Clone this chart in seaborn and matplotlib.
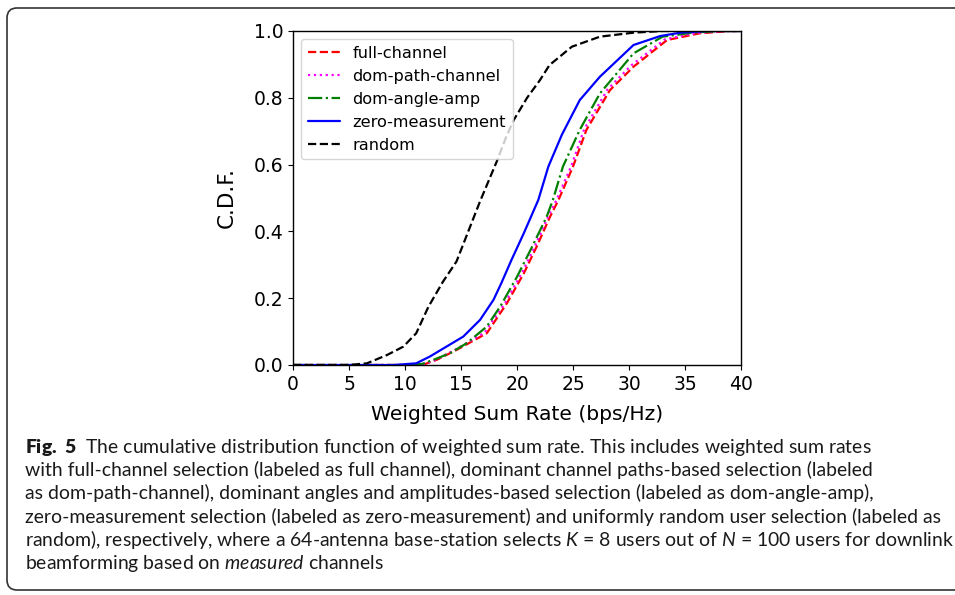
import numpy as np
import pandas as pd
import matplotlib
matplotlib.use("Agg")
import matplotlib.pyplot as plt
from matplotlib.path import Path
from matplotlib.patches import PathPatch
import seaborn as sns

# CDF curves (weighted sum rate in bps/Hz, C.D.F.)
full_x = [0, 10, 11.8, 12.8, 14.6, 17.3, 19.1, 20.6, 21.75, 22.95, 23.7, 25.0, 26.2, 28.3, 30.4, 33.4, 36.3, 39, 40]
full_y = [0, 0, 0.003, 0.015, 0.045, 0.095, 0.185, 0.274, 0.354, 0.444, 0.494, 0.594, 0.704, 0.823, 0.893, 0.973, 0.993, 1.0, 1.0]

path_x = [0, 10, 11.7, 12.7, 14.5, 17.1, 18.95, 20.45, 21.6, 22.8, 23.55, 24.85, 26.0, 28.1, 30.2, 33.2, 36.0, 38.5, 40]
path_y = [0, 0, 0.003, 0.015, 0.046, 0.097, 0.187, 0.276, 0.356, 0.446, 0.496, 0.596, 0.706, 0.826, 0.897, 0.975, 0.994, 1.0, 1.0]

angle_x = [0, 10, 11.5, 12.5, 14.0, 15.5, 17.3, 18.5, 20.0, 21.2, 22.65, 23.2, 24.1, 25.6, 27.4, 30.4, 33.0, 35.7, 38, 40]
angle_y = [0, 0, 0.003, 0.015, 0.035, 0.065, 0.115, 0.175, 0.264, 0.344, 0.444, 0.494, 0.594, 0.704, 0.813, 0.933, 0.983, 0.995, 1.0, 1.0]

zero_x = [0, 9, 11, 12.2, 13.7, 15.2, 16.7, 17.9, 18.6, 19.5, 20.6, 21.9, 22.8, 24.0, 25.6, 27.4, 30.4, 32.8, 34.6, 37, 40]
zero_y = [0, 0, 0.005, 0.025, 0.055, 0.085, 0.135, 0.195, 0.245, 0.314, 0.394, 0.494, 0.594, 0.689, 0.793, 0.863, 0.958, 0.985, 0.995, 1.0, 1.0]

rand_x = [0, 5, 6.6, 8.4, 9.85, 11.0, 12.1, 13.4, 14.6, 15.65, 16.7, 18.2, 19.0, 19.7, 20.9, 22.05, 22.9, 24.9, 27.4, 30.4, 33, 40]
rand_y = [0, 0, 0.005, 0.03, 0.055, 0.095, 0.175, 0.25, 0.31, 0.40, 0.49, 0.61, 0.68, 0.733, 0.80, 0.853, 0.898, 0.953, 0.983, 0.995, 1.0, 1.0]

labels = ["full-channel", "dom-path-channel", "dom-angle-amp", "zero-measurement", "random"]
colors = ["red", "magenta", "green", "blue", "black"]
styles = ["--", ":", "-.", "-", "--"]

x_ticks = [0, 5, 10, 15, 20, 25, 30, 35, 40]
y_ticks = [0.0, 0.2, 0.4, 0.6, 0.8, 1.0]

caption = [
    r"$\mathbf{Fig.\ 5}$  The cumulative distribution function of weighted sum rate. This includes weighted sum rates",
    "with full-channel selection (labeled as full channel), dominant channel paths-based selection (labeled",
    "as dom-path-channel), dominant angles and amplitudes-based selection (labeled as dom-angle-amp),",
    "zero-measurement selection (labeled as zero-measurement) and uniformly random user selection (labeled as",
    r"random), respectively, where a 64-antenna base-station selects $K$ = 8 users out of $N$ = 100 users for downlink",
    r"beamforming based on $\mathit{measured}$ channels",
]

sns.set_theme(style="ticks", rc={
    "axes.edgecolor": "black",
    "axes.linewidth": 1.0,
    "xtick.color": "black",
    "ytick.color": "black",
    "text.color": "black",
    "axes.labelcolor": "black",
    "xtick.major.size": 3.5,
    "ytick.major.size": 3.5,
    "xtick.major.width": 0.8,
    "ytick.major.width": 0.8,
})
plt.rcParams["font.family"] = ["DejaVu Sans"]
plt.rcParams["mathtext.fontset"] = "custom"
plt.rcParams["mathtext.rm"] = "Lato"
plt.rcParams["mathtext.it"] = "Lato:italic"
plt.rcParams["mathtext.bf"] = "Lato:heavy"

fig = plt.figure(figsize=(9.55, 5.95), dpi=100)
ax = fig.add_axes([293 / 955, 1 - 365 / 595, (741 - 293) / 955, (365 - 31) / 595])

series = [(full_x, full_y), (path_x, path_y), (angle_x, angle_y), (zero_x, zero_y), (rand_x, rand_y)]
for (xs, ys), lab, col, ls in zip(series, labels, colors, styles):
    df = pd.DataFrame({"rate": xs, "cdf": ys})
    sns.lineplot(data=df, x="rate", y="cdf", ax=ax, color=col, linestyle=ls,
                 linewidth=1.6, label=lab, sort=True, estimator=None)

ax.set_xlim(0, 40)
ax.set_ylim(0, 1)
ax.set_xticks(x_ticks)
ax.set_yticks(y_ticks)
ax.set_xticklabels([str(t) for t in x_ticks])
ax.set_yticklabels([f"{t:.1f}" for t in y_ticks])
ax.tick_params(labelsize=13.5)
ax.set_xlabel("Weighted Sum Rate (bps/Hz)", fontsize=14.6, labelpad=8)
ax.set_ylabel("C.D.F.", fontsize=15.5, labelpad=12)
ax.legend(loc="upper left", fontsize=11.6, frameon=True, framealpha=0.8,
          edgecolor="#cccccc", borderaxespad=0.5)

# caption frame: top, left and bottom edges with rounded left corners,
# open on the right where it runs off the page
x0, x1, yb, yt, rr = 0.07, 9.55, 0.05, 5.87, 0.1
verts = [(x1, yt), (x0 + rr, yt), (x0, yt), (x0, yt - rr),
         (x0, yb + rr), (x0, yb), (x0 + rr, yb), (x1, yb)]
codes = [Path.MOVETO, Path.LINETO, Path.CURVE3, Path.CURVE3,
         Path.LINETO, Path.CURVE3, Path.CURVE3, Path.LINETO]
frame = PathPatch(Path(verts, codes), transform=fig.dpi_scale_trans,
                  facecolor="none", edgecolor="#333333", linewidth=1.2)
fig.patches.append(frame)

baselines = [453, 476, 499.5, 523, 546, 569.5]
texts = []
for line, b in zip(caption, baselines):
    t = fig.text(25 / 955, 1 - b / 595, line, family="Lato", fontsize=13,
                 color="#1a1a1a", va="baseline", ha="left")
    texts.append(t)

# fit caption font size so the longest line spans the same width as in the figure
fig.canvas.draw()
r = fig.canvas.get_renderer()
w = texts[4].get_window_extent(r).width
size = 13 * 926 / w
for t in texts:
    t.set_fontsize(size)

fig.savefig("out.png", dpi=100)
